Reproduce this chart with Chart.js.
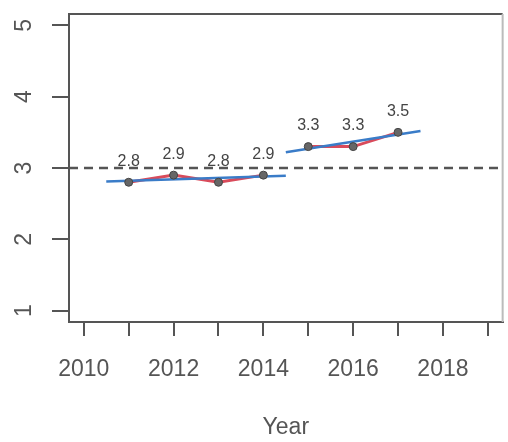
<!DOCTYPE html>
<html>
<head>
<meta charset="utf-8">
<script src="https://cdn.jsdelivr.net/npm/chart.js@4.4.1/dist/chart.umd.min.js"></script>
<style>
  html, body { margin: 0; padding: 0; background: #fff; }
  #wrap { width: 508px; height: 442px; position: relative; }
</style>
</head>
<body>
<div id="wrap"><canvas id="chart"></canvas></div>
<script>
// Yearly values with two fitted trend segments and a reference line at 3

const years = [2011, 2012, 2013, 2014, 2015, 2016, 2017];
const scores = [2.8, 2.9, 2.8, 2.9, 3.3, 3.3, 3.5];
const scoreLabels = ['2.8', '2.9', '2.8', '2.9', '3.3', '3.3', '3.5'];
const breakYear = 2014.5; // red line is broken here

// blue trend segments
const fitStartYears = [2010.5, 2014.5];
const fitEndYears = [2014.5, 2017.5];
const fitStartValues = [2.81, 3.22];
const fitEndValues = [2.89, 3.52];

const refValue = 3;

const xTicks = [2010, 2011, 2012, 2013, 2014, 2015, 2016, 2017, 2018, 2019];
const xTickLabels = ['2010', '', '2012', '', '2014', '', '2016', '', '2018', ''];
const yTicks = [1, 2, 3, 4, 5];

const xMin = 2009.67, xMax = 2019.33;
const yMin = 0.84, yMax = 5.16;

const FONT = '"Liberation Sans", Arial, sans-serif';
const AXIS_COLOR = '#555';

// red line with a gap between the two periods
const redData = [];
years.forEach(function (yr, i) {
    if (i > 0 && years[i - 1] < breakYear && yr > breakYear) {
        redData.push({ x: breakYear, y: null });
    }
    redData.push({ x: yr, y: scores[i] });
});

const fitData = [];
fitStartYears.forEach(function (s, i) {
    if (i > 0) fitData.push({ x: s, y: null });
    fitData.push({ x: s, y: fitStartValues[i] });
    fitData.push({ x: fitEndYears[i], y: fitEndValues[i] });
});

const pointData = years.map(function (yr, i) { return { x: yr, y: scores[i] }; });

const frameAndLabels = {
    id: 'frameAndLabels',
    afterDraw: function (chart) {
        const ctx = chart.ctx;
        const area = chart.chartArea;
        const yScale = chart.scales.y;
        ctx.save();

        // top and right sides of the box
        ctx.lineWidth = 2;
        ctx.strokeStyle = AXIS_COLOR;
        ctx.beginPath();
        ctx.moveTo(area.left, area.top);
        ctx.lineTo(area.right, area.top);
        ctx.stroke();
        ctx.strokeStyle = '#bbb';
        ctx.beginPath();
        ctx.moveTo(area.right, area.top);
        ctx.lineTo(area.right, area.bottom);
        ctx.stroke();

        // rotated y tick labels
        ctx.fillStyle = AXIS_COLOR;
        ctx.font = '23px ' + FONT;
        ctx.textAlign = 'center';
        ctx.textBaseline = 'middle';
        yTicks.forEach(function (v) {
            const py = yScale.getPixelForValue(v);
            ctx.save();
            ctx.translate(25, py);
            ctx.rotate(-Math.PI / 2);
            ctx.fillText(String(v), 0, 0);
            ctx.restore();
        });

        // value labels above the points
        const meta = chart.getDatasetMeta(0);
        ctx.font = '16px ' + FONT;
        ctx.fillStyle = '#444';
        meta.data.forEach(function (pt, i) {
            ctx.fillText(scoreLabels[i], pt.x, pt.y - 21);
        });

        ctx.restore();
    }
};

new Chart(document.getElementById('chart'), {
    type: 'line',
    data: {
        datasets: [
            {
                label: 'points',
                data: pointData,
                showLine: false,
                pointRadius: 4,
                pointBackgroundColor: '#666',
                pointBorderColor: '#444',
                pointBorderWidth: 1,
                order: 0
            },
            {
                label: 'trend',
                data: fitData,
                borderColor: '#3a7cc8',
                borderWidth: 2.5,
                pointRadius: 0,
                spanGaps: false,
                order: 1
            },
            {
                label: 'score',
                data: redData,
                borderColor: '#d94b5b',
                borderWidth: 3,
                pointRadius: 0,
                spanGaps: false,
                order: 2
            },
            {
                label: 'reference',
                data: [{ x: xMin, y: refValue }, { x: xMax, y: refValue }],
                borderColor: AXIS_COLOR,
                borderWidth: 2.5,
                borderDash: [9, 6],
                pointRadius: 0,
                order: 3
            }
        ]
    },
    options: {
        responsive: true,
        maintainAspectRatio: false,
        animation: false,
        layout: { padding: { top: 14, right: 1, left: 0, bottom: 0 } },
        plugins: {
            legend: { display: false },
            tooltip: { enabled: false }
        },
        scales: {
            x: {
                type: 'linear',
                min: xMin,
                max: xMax,
                afterBuildTicks: function (scale) {
                    scale.ticks = xTicks.map(function (v) { return { value: v }; });
                },
                afterFit: function (scale) { scale.height = 120; },
                ticks: {
                    autoSkip: false,
                    maxRotation: 0,
                    padding: 20,
                    color: AXIS_COLOR,
                    font: { size: 23, family: FONT },
                    callback: function (value, index) { return xTickLabels[index]; }
                },
                grid: {
                    drawOnChartArea: false,
                    drawTicks: true,
                    tickLength: 14,
                    lineWidth: 2,
                    color: AXIS_COLOR
                },
                border: { display: true, color: AXIS_COLOR, width: 2 },
                title: {
                    display: true,
                    text: 'Year',
                    color: AXIS_COLOR,
                    font: { size: 23, family: FONT },
                    padding: { top: 0, bottom: 1 }
                }
            },
            y: {
                type: 'linear',
                min: yMin,
                max: yMax,
                afterBuildTicks: function (scale) {
                    scale.ticks = yTicks.map(function (v) { return { value: v }; });
                },
                afterFit: function (scale) { scale.width = 69; },
                ticks: { display: false },
                grid: {
                    drawOnChartArea: false,
                    drawTicks: true,
                    tickLength: 17,
                    lineWidth: 2,
                    color: AXIS_COLOR
                },
                border: { display: true, color: AXIS_COLOR, width: 2 }
            }
        }
    },
    plugins: [frameAndLabels]
});
</script>
</body>
</html>
